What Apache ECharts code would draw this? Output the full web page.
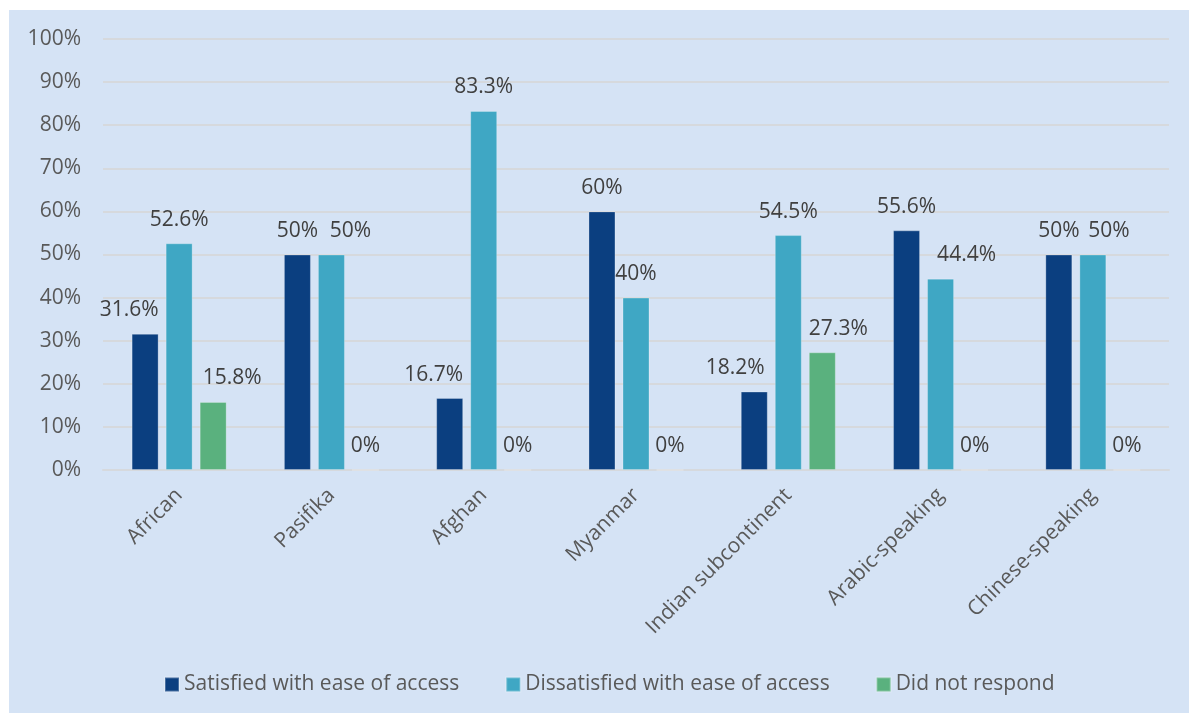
<!DOCTYPE html>
<html>
<head>
<meta charset="utf-8">
<script src="https://cdn.jsdelivr.net/npm/echarts@6/dist/echarts.min.js"></script>
<style>
  html, body { margin: 0; padding: 0; background: #ffffff; }
  #chart { position: absolute; left: 9px; top: 10px; width: 1180px; height: 703px; }
</style>
</head>
<body>
<div id="chart"></div>
<script>
// groups along the x axis
const categories = ['African', 'Pasifika', 'Afghan', 'Myanmar', 'Indian subcontinent', 'Arabic-speaking', 'Chinese-speaking'];
const seriesNames = ['Satisfied with ease of access', 'Dissatisfied with ease of access', 'Did not respond'];
// percentages
const satisfied = [31.6, 50, 16.7, 60, 18.2, 55.6, 50];
const dissatisfied = [52.6, 50, 83.3, 40, 54.5, 44.4, 50];
const noResponse = [15.8, 0, 0, 0, 27.3, 0, 0];
const yTicks = [0, 10, 20, 30, 40, 50, 60, 70, 80, 90, 100];

// small sideways nudges for labels that the original moved to avoid overlap
const nudgeSatisfied = [-16, 0, -16, 0, -19, 0, 0];
const nudgeDissatisfied = [0, 19, 0, 0, 0, 26, 16];
const nudgeNoResponse = [19, 0, 0, 0, 16, 0, 0];

const colors = ['#0b3f80', '#3fa7c4', '#5ab17e'];
const font = '"Open Sans", "Noto Sans", sans-serif';
const textSize = 21;

const chart = echarts.init(document.getElementById('chart'));

function buildSeries(name, values, nudges, color) {
  return {
    name: name,
    type: 'bar',
    barWidth: 27,
    barGap: '26%',
    itemStyle: { color: color, borderColor: 'rgba(255,255,255,0.25)', borderWidth: 1 },
    label: {
      show: true,
      position: 'top',
      distance: 13,
      formatter: '{c}%',
      color: '#404040',
      fontSize: textSize,
      fontFamily: font
    },
    data: values.map((v, i) => ({ value: v, label: { offset: [nudges[i], 0] } }))
  };
}

chart.setOption({
  backgroundColor: '#d5e3f5',
  animation: false,
  color: colors,
  grid: { left: 94, right: 20, top: 29, bottom: 243 },
  legend: {
    left: 150,
    bottom: 13,
    itemWidth: 14,
    itemHeight: 14,
    itemGap: 46,
    icon: 'rect',
    textStyle: { color: '#595959', fontSize: textSize, fontFamily: font }
  },
  xAxis: {
    type: 'category',
    data: categories,
    axisTick: { show: false },
    axisLine: { lineStyle: { color: '#d6d9dd', width: 2 } },
    axisLabel: {
      rotate: 45,
      margin: 22,
      interval: 0,
      color: '#595959',
      fontSize: textSize,
      fontFamily: font
    }
  },
  yAxis: {
    type: 'value',
    min: yTicks[0],
    max: yTicks[yTicks.length - 1],
    interval: yTicks[1] - yTicks[0],
    axisLine: { show: false },
    axisTick: { show: false },
    splitLine: { lineStyle: { color: '#d6d9dd', width: 2 } },
    axisLabel: {
      margin: 22,
      formatter: '{value}%',
      color: '#595959',
      fontSize: textSize,
      fontFamily: font
    }
  },
  series: [
    buildSeries(seriesNames[0], satisfied, nudgeSatisfied, colors[0]),
    buildSeries(seriesNames[1], dissatisfied, nudgeDissatisfied, colors[1]),
    buildSeries(seriesNames[2], noResponse, nudgeNoResponse, colors[2])
  ]
});
</script>
</body>
</html>
